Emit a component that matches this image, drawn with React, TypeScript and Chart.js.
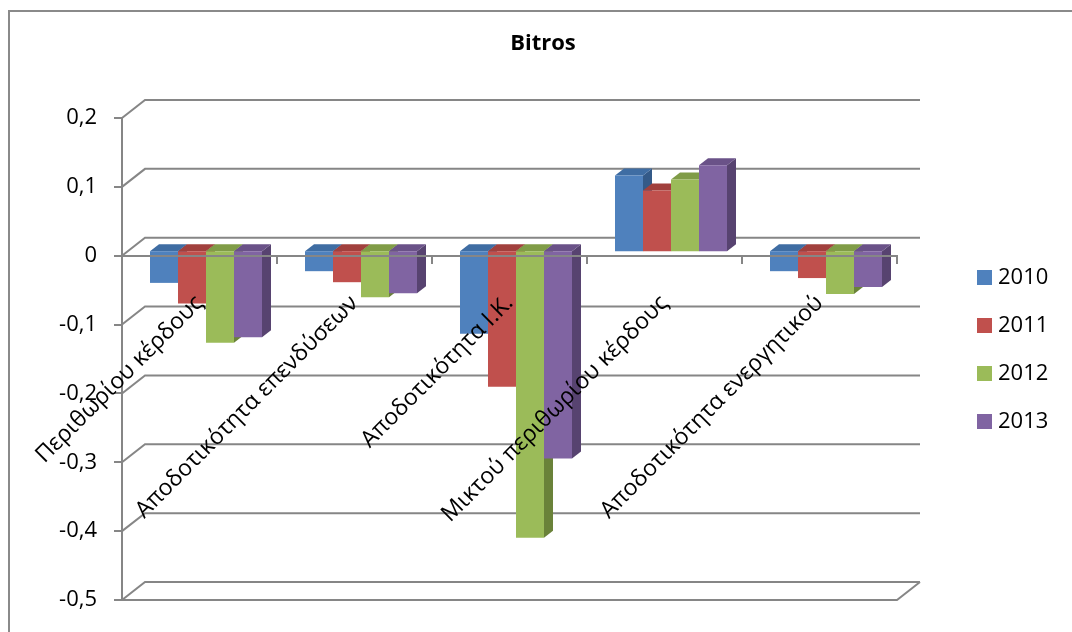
import { useEffect, useRef } from 'react';
import { Chart, registerables } from 'chart.js';

Chart.register(...registerables);

// ---- data ----
const chartTitle = 'Bitros';
const categories = [
  'Περιθωρίου κέρδους',
  'Αποδοτικότητα επενδύσεων',
  'Αποδοτικότητα Ι.Κ.',
  'Μικτού περιθωρίου κέρδους',
  'Αποδοτικότητα ενεργητικού',
];
const years = ['2010', '2011', '2012', '2013'];
const values2010 = [-0.046, -0.029, -0.12, 0.11, -0.029];
const values2011 = [-0.076, -0.045, -0.197, 0.088, -0.039];
const values2012 = [-0.133, -0.067, -0.416, 0.104, -0.062];
const values2013 = [-0.125, -0.061, -0.301, 0.125, -0.052];
const yMin = -0.5;
const yMax = 0.2;
const yStep = 0.1;

// ---- styling ----
const FONT = '"Open Sans", "DejaVu Sans", sans-serif';
const GRID = '#868686';
const frontColors = ['#4F81BD', '#C0504D', '#9BBB59', '#8064A2'];
const topColors = ['#3F6DA3', '#A1403D', '#809C47', '#6A5288'];
const sideColors = ['#345A88', '#863532', '#6A8239', '#574370'];
const WALL = { x: 23, y: -18 }; // depth of the back wall
const BAR_SHIFT = { x: 6.5, y: -4.5 }; // bars sit slightly behind the front plane
const DEPTH = { x: 9, y: -7 }; // depth of each bar

const formatTick = (v: number) =>
  (Math.round(Number(v) * 10) / 10).toString().replace('.', ',');

const poly = (ctx: CanvasRenderingContext2D, pts: number[][], color: string) => {
  ctx.beginPath();
  ctx.moveTo(pts[0][0], pts[0][1]);
  for (let i = 1; i < pts.length; i++) ctx.lineTo(pts[i][0], pts[i][1]);
  ctx.closePath();
  ctx.fillStyle = color;
  ctx.fill();
};

const frame3d = {
  id: 'frame3d',
  beforeDraw(chart: any) {
    const { ctx, width, height } = chart;
    ctx.save();
    ctx.fillStyle = '#ffffff';
    ctx.fillRect(0, 0, width, height);
    ctx.strokeStyle = '#8a8a8a';
    ctx.lineWidth = 2;
    ctx.strokeRect(9, 11, width + 40, height + 40);
    ctx.fillStyle = '#000';
    ctx.font = `bold 22px ${FONT}`;
    ctx.textAlign = 'center';
    ctx.textBaseline = 'middle';
    ctx.fillText(chartTitle, 543, 44);
    ctx.restore();
  },
  beforeDatasetsDraw(chart: any) {
    const { ctx, chartArea, scales } = chart;
    const { left, right, bottom } = chartArea;
    const ys = scales.y;
    ctx.save();
    ctx.strokeStyle = GRID;
    ctx.lineWidth = 2;
    ctx.lineJoin = 'miter';
    ctx.beginPath();
    ys.ticks.forEach((t: any) => {
      const py = ys.getPixelForValue(t.value);
      ctx.moveTo(left, py);
      ctx.lineTo(left + WALL.x, py + WALL.y);
      ctx.lineTo(right + WALL.x, py + WALL.y);
    });
    ctx.moveTo(left, bottom);
    ctx.lineTo(right, bottom);
    ctx.lineTo(right + WALL.x, bottom + WALL.y);
    ctx.stroke();
    ctx.restore();

    // bar depth faces; the front faces are drawn by the bar controller on top
    ctx.save();
    ctx.translate(BAR_SHIFT.x, BAR_SHIFT.y);
    const n = chart.data.labels.length;
    const metas = chart.data.datasets.map((_: any, i: number) => chart.getDatasetMeta(i));
    for (let j = 0; j < n; j++) {
      metas.forEach((meta: any, i: number) => {
        const el = meta.data[j];
        if (!el) return;
        const { x, y, base, width: w } = el.getProps(['x', 'y', 'base', 'width'], true);
        const l = x - w / 2;
        const r = x + w / 2;
        const top = Math.min(y, base);
        const bot = Math.max(y, base);
        poly(ctx, [[r, top], [r + DEPTH.x, top + DEPTH.y], [r + DEPTH.x, bot + DEPTH.y], [r, bot]], sideColors[i]);
        poly(ctx, [[l, top], [l + DEPTH.x, top + DEPTH.y], [r + DEPTH.x, top + DEPTH.y], [r, top]], topColors[i]);
      });
    }
  },
  afterDatasetsDraw(chart: any) {
    chart.ctx.restore();
  },
  afterDraw(chart: any) {
    const { ctx } = chart;
    ctx.save();
    ctx.font = `22px ${FONT}`;
    ctx.textAlign = 'left';
    ctx.textBaseline = 'middle';
    chart.data.datasets.forEach((ds: any, i: number) => {
      const cy = 277.5 + i * 48;
      ctx.fillStyle = ds.backgroundColor;
      ctx.fillRect(977, cy - 7.5, 15, 15);
      ctx.fillStyle = '#000';
      ctx.fillText(ds.label, 998, cy);
    });
    ctx.restore();
  },
};

export default function App() {
  const ref = useRef<HTMLCanvasElement | null>(null);

  useEffect(() => {
    if (!ref.current) return;
    const series = [values2010, values2011, values2012, values2013];
    const chart = new Chart(ref.current, {
      type: 'bar',
      data: {
        labels: categories,
        datasets: series.map((vals, i) => ({
          label: years[i],
          data: vals,
          backgroundColor: frontColors[i],
          borderWidth: 0,
          barPercentage: 1,
          categoryPercentage: 0.7226,
          clip: false as any,
        })),
      },
      options: {
        animation: false,
        responsive: false,
        devicePixelRatio: 1,
        layout: { padding: { left: 0, right: 175, top: 118, bottom: 32 } },
        plugins: {
          legend: { display: false },
          title: { display: false },
          tooltip: { enabled: false },
        },
        scales: {
          x: {
            type: 'category',
            position: { y: 0 } as any,
            offset: true,
            afterFit: (s: any) => {
              // the rotated labels overlap the plot; they should not push the plot area
              s.paddingLeft = 0;
              s.paddingRight = 0;
              s.paddingTop = 0;
              s.paddingBottom = 0;
            },
            grid: {
              display: true,
              drawOnChartArea: false,
              drawTicks: true,
              tickLength: 7,
              color: GRID,
              lineWidth: 2,
              offset: true,
              z: 1,
            },
            border: { display: true, color: GRID, width: 2, z: 1 },
            ticks: {
              autoSkip: false,
              minRotation: 45,
              maxRotation: 45,
              padding: 27,
              labelOffset: 0,
              color: '#000',
              font: { family: FONT, size: 23 },
              z: 2,
            },
          },
          y: {
            min: yMin,
            max: yMax,
            afterFit: (s: any) => {
              s.width = 122;
            },
            grid: {
              drawOnChartArea: false,
              drawTicks: true,
              tickLength: 8,
              color: GRID,
              lineWidth: 2,
            },
            border: { display: true, color: GRID, width: 2 },
            ticks: {
              stepSize: yStep,
              padding: 17,
              color: '#000',
              font: { family: FONT, size: 22 },
              callback: (v: any) => formatTick(v),
            },
          },
        },
      },
      plugins: [frame3d],
    });
    return () => chart.destroy();
  }, []);

  return (
    <div style={{ position: 'fixed', left: 0, top: 0, width: 1072, height: 632, overflow: 'hidden', background: '#fff' }}>
      <canvas ref={ref} width={1072} height={632} style={{ display: 'block' }} />
    </div>
  );
}
